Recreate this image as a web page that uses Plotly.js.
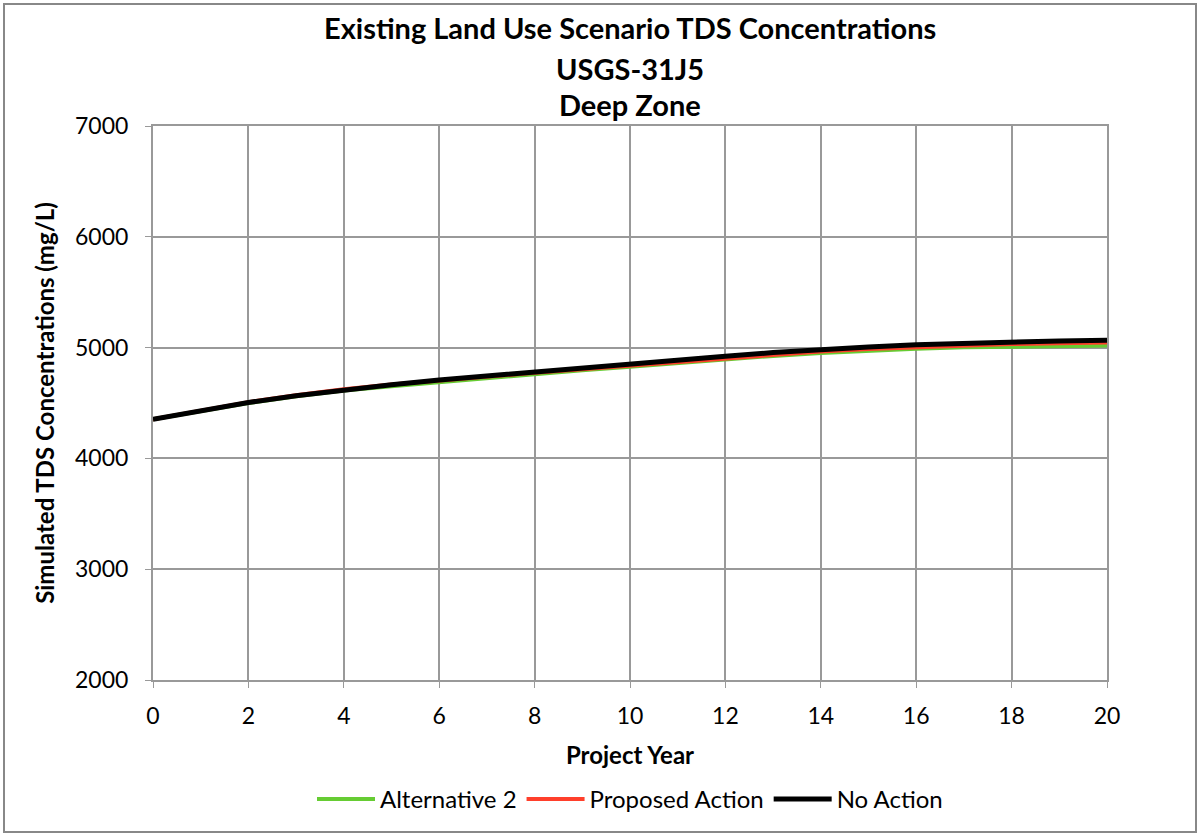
<!DOCTYPE html>
<html>
<head>
<meta charset="utf-8">
<script src="https://cdn.plot.ly/plotly-3.0.1.min.js"></script>
<style>html,body{margin:0;padding:0;background:#fff;}#chart{width:1200px;height:836px;}</style>
</head>
<body>
<div id="chart"></div>
<script>
const years = [0,1,2,3,4,5,6,7,8,9,10,11,12,13,14,15,16,17,18,19,20];
const alternative2 = [4353,4428,4500,4560,4612,4652,4690,4725,4760,4795,4828,4862,4895,4925,4952,4972,4990,5003,5010,5015,5018];
const proposedAction = [4353,4432,4508,4570,4625,4668,4705,4738,4772,4805,4838,4872,4905,4938,4965,4988,5005,5020,5032,5040,5045];
const noAction = [4353,4430,4505,4565,4620,4665,4708,4745,4782,4818,4852,4888,4922,4955,4983,5006,5026,5040,5052,5060,5066];
const seriesNames = ["Alternative 2","Proposed Action","No Action"];
const titleLines = ["Existing Land Use Scenario TDS Concentrations","USGS-31J5","Deep Zone"];
const xTicks = [0,2,4,6,8,10,12,14,16,18,20];
const yTicks = [2000,3000,4000,5000,6000,7000];

const font = "Lato, 'Open Sans', sans-serif";
const traces = [
  {x: years, y: alternative2, name: seriesNames[0], mode: "lines", line: {color: "#66CC33", width: 4}},
  {x: years, y: proposedAction, name: seriesNames[1], mode: "lines", line: {color: "#FF3F2B", width: 4}},
  {x: years, y: noAction, name: seriesNames[2], mode: "lines", line: {color: "#000000", width: 5}}
];
const titleY = [(680-28)/554, (680-68)/554, (680-105)/554];
const layout = {
  width: 1200, height: 836,
  margin: {l: 153, r: 93, t: 126, b: 156},
  paper_bgcolor: "#fff", plot_bgcolor: "#fff",
  font: {family: font, size: 24, color: "#000"},
  showlegend: true,
  legend: {orientation: "h", x: 0.5, xanchor: "center", y: -0.175, yanchor: "top",
           font: {family: font, size: 24}, traceorder: "normal", itemwidth: 58},
  xaxis: {
    range: [0, 20], tickvals: xTicks, ticktext: xTicks.map(String),
    showgrid: true, gridcolor: "#999", gridwidth: 2,
    showline: true, linecolor: "#999", linewidth: 2, mirror: true,
    ticks: "outside", ticklen: 6, tickcolor: "#999", zeroline: false,
    ticklabelstandoff: 8,
    title: {text: "<b>Project Year</b>", font: {family: font, size: 24}, standoff: 20},
    tickfont: {family: font, size: 23}
  },
  yaxis: {
    range: [2000, 7000], tickvals: yTicks, ticktext: yTicks.map(String),
    showgrid: true, gridcolor: "#999", gridwidth: 2,
    showline: true, linecolor: "#999", linewidth: 2, mirror: true,
    ticks: "outside", ticklen: 6, tickcolor: "#999", zeroline: false,
    ticklabelstandoff: 12,
    title: {text: "<b>Simulated TDS Concentrations (mg/L)</b>", font: {family: font, size: 24}, standoff: 14},
    tickfont: {family: font, size: 23}
  },
  annotations: titleLines.map((t, i) => ({
    text: "<b>" + t + "</b>", xref: "paper", yref: "paper", x: 0.5, y: titleY[i],
    xanchor: "center", yanchor: "middle", showarrow: false,
    font: {family: font, size: 29, color: "#000"}
  })),
  shapes: [{type: "rect", xref: "paper", yref: "paper",
            x0: (4-153)/954, x1: (1196-153)/954, y0: (680-832)/554, y1: (680-4)/554,
            line: {color: "#888", width: 2}, fillcolor: "rgba(0,0,0,0)", layer: "below"}]
};
Plotly.newPlot("chart", traces, layout, {displayModeBar: false, staticPlot: true});
</script>
</body>
</html>
